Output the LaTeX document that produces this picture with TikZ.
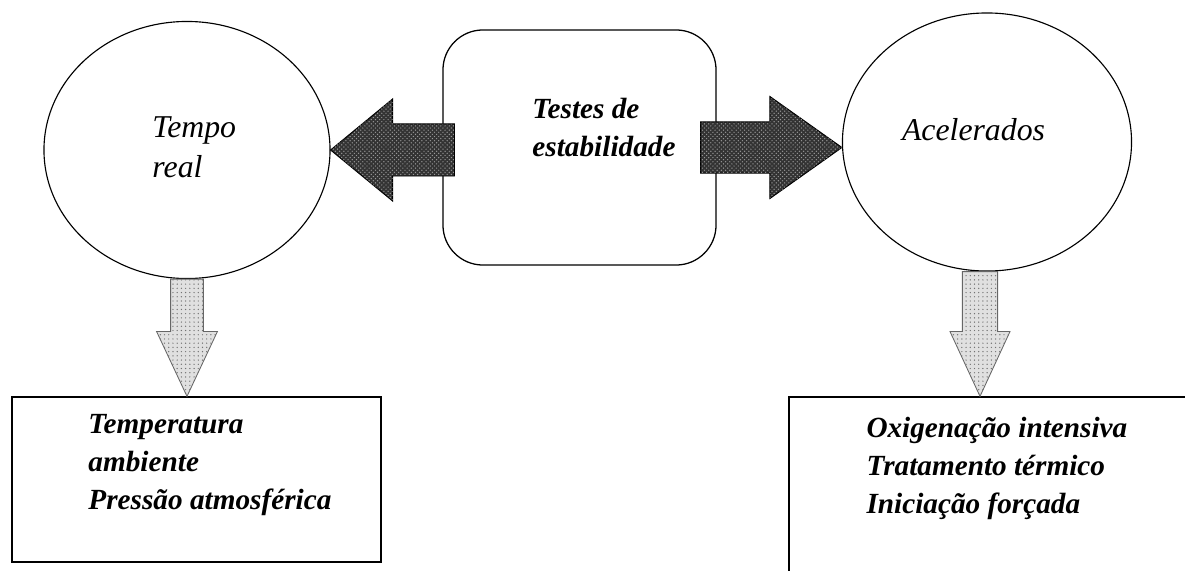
\documentclass[tikz,border=0pt]{standalone}
\usepackage{fontspec}
\setmainfont{Liberation Serif}
\usepackage{tikz}
\usetikzlibrary{shapes.geometric,patterns,calc}
\tikzset{
  every picture/.style={line width=0.7pt},
  sOval/.style={ellipse, draw, line width=0.8pt, inner sep=0pt},
  sCore/.style={rectangle, draw, rounded corners=1cm, line width=0.9pt, minimum width=6.825cm, minimum height=5.875cm},
  sBox/.style={rectangle, draw, line width=0.9pt},
  sTxt/.style={font=\fontsize{22.6}{28.5}\selectfont\itshape, align=left, inner sep=0pt},
  sBold/.style={font=\fontsize{20.8}{26.8}\selectfont\bfseries\itshape, align=left, inner sep=0pt},
  sDark/.style={fill=black!80, postaction={pattern=crosshatch dots, pattern color=black!40}},
  sLight/.style={draw=black!60, line width=0.6pt, fill=black!12, postaction={pattern=dots, pattern color=black!55}},
}
% fat block arrow: style, tail, tip, shaft half width, head half width, head length
\newcommand{\fatarrow}[6]{%
  \coordinate (fa-h) at ($(#3)!#6!(#2)$);
  \draw[#1] ($(#2)!#4!90:(#3)$) -- ($(fa-h)!#4!90:(#3)$) -- ($(fa-h)!#5!90:(#3)$) -- (#3)
    -- ($(fa-h)!#5!-90:(#3)$) -- ($(fa-h)!#4!-90:(#3)$) -- ($(#2)!#4!-90:(#3)$) -- cycle;
}

\begin{document}
\begin{tikzpicture}[x=0.025cm,y=-0.025cm]
\useasboundingbox (0,0) rectangle (1185,571);
% top row
\node[sOval, minimum width=7.15cm, minimum height=6.425cm] (tr) at (187,150) {};
\node[sCore] (box) at (579.5,147.5) {};
\node[sOval, minimum width=7.225cm, minimum height=6.45cm] (ac) at (987,142) {};
\node[sTxt, anchor=west] (trlbl) at (152,147) {Tempo\\real};
\node[sTxt] (aclbl) at (973.5,130) {Acelerados};
\node[sBold, anchor=west] (boxlbl) at (532,127.5) {Testes de\\estabilidade};
% bottom boxes
\node[sBox, minimum width=9.225cm, minimum height=4.125cm] (lbox) at (196.5,479.5) {};
\begin{scope}
\clip (0,0) rectangle (1185,571);
\node[sBox, minimum width=10.275cm, minimum height=5.075cm] (rbox) at (994.5,498.5) {};
\end{scope}
\node[sBold, anchor=west] (lboxlbl) at (88,465) {Temperatura\\ambiente\\Pressão atmosférica};
\node[sBold, anchor=west] (rboxlbl) at (866,468.5) {Oxigenação intensiva\\Tratamento térmico\\Iniciação forçada};
% block arrows
\coordinate (ltail) at ($(box.west |- tr.east)+(12,0)$);
\coordinate (rtail) at ($(box.east)+(-16,0)$);
\coordinate (rtip) at (ac.west |- box.east);
\coordinate (dtail) at ($(ac.south)+(-7,0)$);
\fatarrow{sDark}{ltail}{tr.east}{0.65cm}{1.275cm}{1.55cm}
\fatarrow{sDark}{rtail}{rtip}{0.64cm}{1.275cm}{1.8cm}
\fatarrow{sLight}{tr.south}{tr.south |- lbox.north}{0.41cm}{0.76cm}{1.62cm}
\fatarrow{sLight}{dtail}{dtail |- rbox.north}{0.44cm}{0.75cm}{1.62cm}
\end{tikzpicture}
\end{document}
